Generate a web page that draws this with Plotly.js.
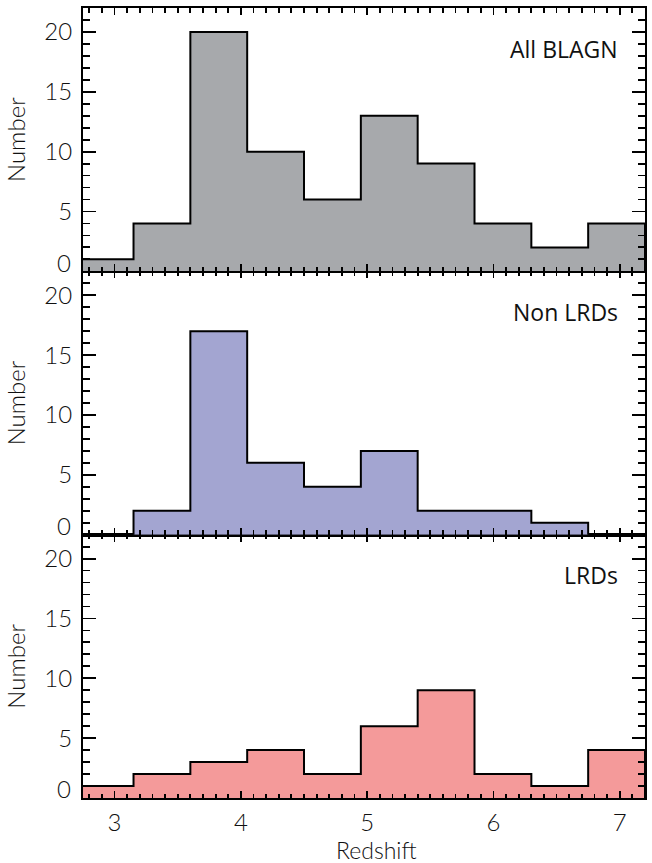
<!DOCTYPE html>
<html>
<head>
<meta charset="utf-8">
<script src="https://cdn.plot.ly/plotly-3.0.1.min.js"></script>
<style>html,body{margin:0;padding:0;background:#fff;}#chart{width:652px;height:863px;}</style>
</head>
<body>
<div id="chart"></div>
<script>
// Bin edges in redshift (bin width 0.45)
const binEdges = [2.70, 3.15, 3.60, 4.05, 4.50, 4.95, 5.40, 5.85, 6.30, 6.75, 7.20];
// Counts per bin
const allBlagn = [1, 4, 20, 10, 6, 13, 9, 4, 2, 4];
const nonLrds  = [0, 2, 17, 6, 4, 7, 2, 2, 1, 0];
const lrds     = [1, 2, 3, 4, 2, 6, 9, 2, 1, 4];
const panelLabels = ["All BLAGN", "Non LRDs", "LRDs"];
const xTickVals = [3, 4, 5, 6, 7];
const yTickVals = [0, 5, 10, 15, 20];
const xTitle = "Redshift";
const yTitle = "Number";

function stepTrace(counts, fill, xa, ya) {
  const xs = [binEdges[0]];
  const ys = [0];
  for (let i = 0; i < counts.length; i++) { xs.push(binEdges[i]); ys.push(counts[i]); }
  xs.push(binEdges[binEdges.length - 1]); ys.push(counts[counts.length - 1]);
  xs.push(binEdges[binEdges.length - 1]); ys.push(0);
  return {
    type: 'scatter', mode: 'lines', x: xs, y: ys,
    line: {shape: 'hv', color: '#000', width: 2},
    fill: 'tozeroy', fillcolor: fill,
    xaxis: xa, yaxis: ya, showlegend: false, hoverinfo: 'skip'
  };
}

const data = [
  stepTrace(allBlagn, '#a7a9ac', 'x3', 'y3'),
  stepTrace(nonLrds, '#a3a5d1', 'x2', 'y2'),
  stepTrace(lrds, '#f49a9a', 'x', 'y')
];

const fam = 'Lato, "DejaVu Sans", sans-serif';
const tickFont = {family: fam, size: 24, color: '#111', weight: 300};
const xRange = [2.75, 7.2];
const yRange = [0, 22];

function xAxis(anchor, showLabels) {
  return {
    anchor: anchor, range: xRange,
    tickmode: 'linear', tick0: xTickVals[0], dtick: xTickVals[1] - xTickVals[0],
    ticks: 'inside', ticklen: 7, tickwidth: 1.8, tickcolor: '#000',
    minor: {tickmode: 'linear', tick0: 0, dtick: 0.1, ticks: 'inside', ticklen: 4.5, tickwidth: 1.8, tickcolor: '#000'},
    showline: true, linecolor: '#000', linewidth: 2, mirror: 'ticks',
    showgrid: false, zeroline: false, showticklabels: showLabels,
    tickfont: tickFont, ticklabelstandoff: 2
  };
}
function yAxis(anchor, domain) {
  return {
    anchor: anchor, domain: domain, range: yRange,
    tickmode: 'linear', tick0: yTickVals[0], dtick: yTickVals[1] - yTickVals[0],
    // the "0" label is drawn lifted above the axis corner (see annotations)
    labelalias: {'0': ' '},
    ticks: 'inside', ticklen: 13, tickwidth: 1.8, tickcolor: '#000',
    minor: {tickmode: 'linear', tick0: 0, dtick: 1, ticks: 'inside', ticklen: 7, tickwidth: 1.8, tickcolor: '#000'},
    showline: true, linecolor: '#000', linewidth: 2, mirror: 'ticks',
    showgrid: false, zeroline: false, tickfont: tickFont, ticklabelstandoff: 4,
    title: {text: yTitle, font: {family: fam, size: 24, color: '#111', weight: 300}, standoff: 12}
  };
}

const annFont = {family: '"Open Sans", "Noto Sans", sans-serif', size: 23, color: '#111'};
const annotations = [
  {xref: 'x3 domain', yref: 'y3 domain', x: 0.955, y: 0.845, text: panelLabels[0]},
  {xref: 'x2 domain', yref: 'y2 domain', x: 0.955, y: 0.845, text: panelLabels[1]},
  {xref: 'x domain', yref: 'y domain', x: 0.955, y: 0.845, text: panelLabels[2]}
].map(a => Object.assign(a, {xanchor: 'right', yanchor: 'middle', showarrow: false, font: annFont}));

// lifted zero labels at each panel's lower-left corner
['y', 'y2', 'y3'].forEach((ya, i) => {
  const xa = ['x', 'x2', 'x3'][i];
  annotations.push({
    xref: xa + ' domain', yref: ya, x: 0, y: yTickVals[0], text: String(yTickVals[0]),
    xanchor: 'right', yanchor: 'middle', xshift: -10, yshift: 9, showarrow: false, font: tickFont
  });
});
// x-axis title
annotations.push({
  xref: 'paper', yref: 'paper', x: 0.523, y: -0.0658, text: xTitle,
  xanchor: 'center', yanchor: 'middle', showarrow: false,
  font: {family: fam, size: 23, color: '#111', weight: 300}
});

const layout = {
  width: 652, height: 863,
  margin: {l: 83, r: 7, t: 8, b: 65},
  paper_bgcolor: '#fff', plot_bgcolor: '#fff',
  showlegend: false,
  xaxis: xAxis('y', true),
  xaxis2: xAxis('y2', false),
  xaxis3: xAxis('y3', false),
  yaxis: yAxis('x', [0, 1/3]),
  yaxis2: yAxis('x2', [1/3, 2/3]),
  yaxis3: yAxis('x3', [2/3, 1]),
  annotations: annotations
};

Plotly.newPlot('chart', data, layout, {staticPlot: true, displayModeBar: false});
</script>
</body>
</html>
